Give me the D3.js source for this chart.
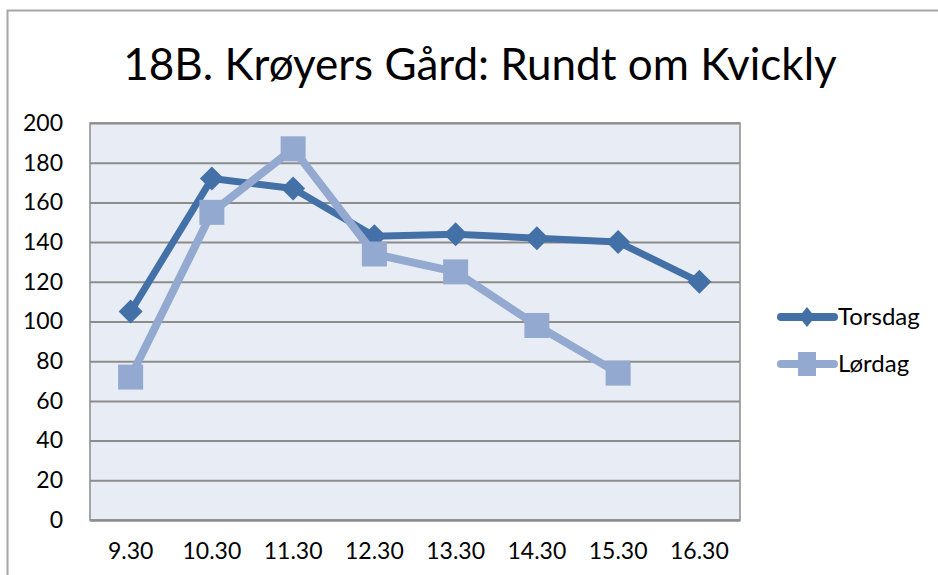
<!DOCTYPE html>
<html><head><meta charset="utf-8">
<script src="https://cdn.jsdelivr.net/npm/d3@7"></script>
<style>body{margin:0;background:#fff;}svg{display:block;}</style>
</head><body>
<svg id="c" width="938" height="575"></svg>
<script>
const categories = ["9.30","10.30","11.30","12.30","13.30","14.30","15.30","16.30"];
const torsdag = [105,172,167,143,144,142,140,120];
const lordag = [72,155,187,134,125,98,74,null];
const yTicks = [0,20,40,60,80,100,120,140,160,180,200];
const seriesNames = ["Torsdag","Lørdag"];

const svg = d3.select("#c");
const font = "Lato, 'Open Sans', sans-serif";
const L=90,R=740,T=123,B=520;
const x = d3.scaleBand().domain(categories).range([L,R]);
const y = d3.scaleLinear().domain([0,200]).range([B,T]);

// outer frame
svg.append("path").attr("d","M7.5,575 L7.5,10.5 L938,10.5").attr("fill","none").attr("stroke","#a6a6a6").attr("stroke-width",2);

svg.append("text").attr("x",480).attr("y",80).attr("text-anchor","middle")
  .attr("font-family",font).attr("font-size",44).attr("fill","#000").text("18B. Krøyers Gård: Rundt om Kvickly");

svg.append("rect").attr("x",L).attr("y",T).attr("width",R-L).attr("height",B-T).attr("fill","#e8edf5").attr("stroke","#8c8c8c").attr("stroke-width",1.5);

const ya = svg.append("g").attr("transform",`translate(${L},0)`)
  .call(d3.axisLeft(y).tickValues(yTicks).tickSize(-(R-L)).tickPadding(27));
ya.select(".domain").remove();
ya.selectAll(".tick line").attr("stroke","#8c8c8c").attr("stroke-width",2);
ya.selectAll(".tick text").attr("font-family",font).attr("font-size",23).attr("fill","#000");

const xa = svg.append("g").attr("transform",`translate(0,${B})`)
  .call(d3.axisBottom(x).tickSize(0).tickPadding(23));
xa.select(".domain").attr("stroke","#8c8c8c").attr("stroke-width",2);
xa.selectAll(".tick text").attr("font-family",font).attr("font-size",23).attr("fill","#000");

const cx = d => x(d)+x.bandwidth()/2;
const line = d3.line().defined(d=>d.v!=null).x(d=>cx(d.c)).y(d=>y(d.v));
const colT="#4470a8", colL="#93a9d0";
const dT = categories.map((c,i)=>({c,v:torsdag[i]}));
const dL = categories.map((c,i)=>({c,v:lordag[i]})).filter(d=>d.v!=null);

svg.append("path").datum(dT).attr("d",line).attr("fill","none").attr("stroke",colT).attr("stroke-width",7).attr("stroke-linejoin","round");
svg.selectAll(".mt").data(dT).enter().append("path")
  .attr("d",d=>{const X=cx(d.c),Y=y(d.v),s=12;return `M${X},${Y-s}L${X+s},${Y}L${X},${Y+s}L${X-s},${Y}Z`;})
  .attr("fill",colT);

svg.append("path").datum(dL).attr("d",line).attr("fill","none").attr("stroke",colL).attr("stroke-width",8).attr("stroke-linejoin","round");
svg.selectAll(".ml").data(dL).enter().append("rect")
  .attr("x",d=>cx(d.c)-12.5).attr("y",d=>y(d.v)-12.5).attr("width",25).attr("height",25).attr("fill",colL);

// legend
const leg = [{n:seriesNames[0],c:colT,y:317,t:"d"},{n:seriesNames[1],c:colL,y:364,t:"s"}];
leg.forEach(l=>{
  svg.append("line").attr("x1",781).attr("x2",834).attr("y1",l.y).attr("y2",l.y).attr("stroke",l.c).attr("stroke-width",8).attr("stroke-linecap","round");
  if(l.t==="d"){svg.append("path").attr("d",`M807,${l.y-10}L815,${l.y}L807,${l.y+10}L799,${l.y}Z`).attr("fill",l.c);}
  else{svg.append("rect").attr("x",798).attr("y",l.y-12).attr("width",18).attr("height",24).attr("fill",l.c);}
  svg.append("text").attr("x",838).attr("y",l.y+8).attr("font-family",font).attr("font-size",24).attr("fill","#000").text(l.n);
});
</script>
</body></html>
